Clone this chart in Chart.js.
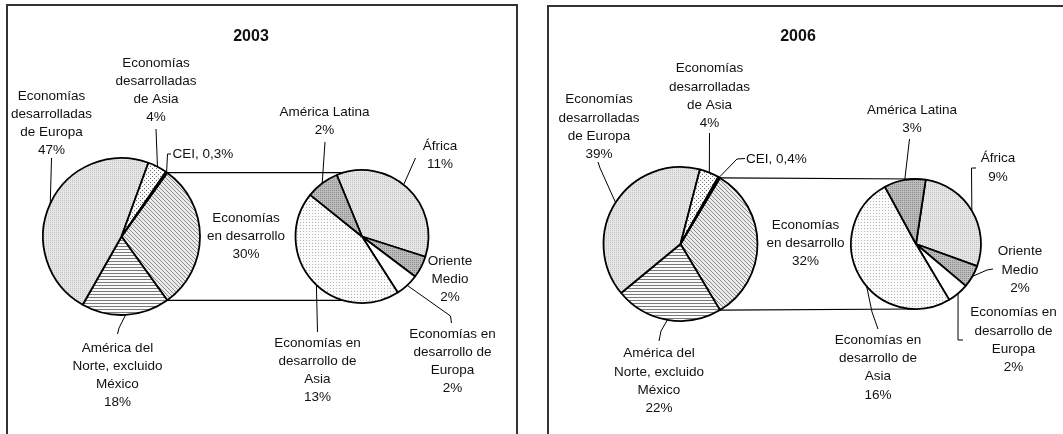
<!DOCTYPE html>
<html>
<head>
<meta charset="utf-8">
<script src="https://cdn.jsdelivr.net/npm/chart.js@4.4.1/dist/chart.umd.min.js"></script>
<style>
  html, body { margin: 0; padding: 0; background: #fff; }
  body { width: 1063px; height: 434px; position: relative; overflow: hidden; }
  canvas { position: absolute; left: 0; top: 0; }
  .panel { position: absolute; border: 2px solid #333; box-sizing: border-box; }
</style>
</head>
<body>
<div class="panel" style="left:6px;top:4px;width:512px;height:480px"></div>
<div class="panel" style="left:547px;top:5px;width:560px;height:480px"></div>
<canvas id="main2003" width="1063" height="434"></canvas>
<canvas id="sub2003" width="1063" height="434"></canvas>
<canvas id="main2006" width="1063" height="434"></canvas>
<canvas id="sub2006" width="1063" height="434"></canvas>
<script>
const years = ['2003', '2006'];

// pastel principal (la primera porción se desglosa en el segundo pastel)
const mainLabels = [
    ['Economías', 'en desarrollo'],
    ['América del', 'Norte, excluido', 'México'],
    ['Economías', 'desarrolladas', 'de Europa'],
    ['Economías', 'desarrolladas', 'de Asia'],
    'CEI'
];
const main2003 = [30, 18, 47, 4, 0.3];
const main2006 = [32, 22, 39, 4, 0.4];

// desglose de las economías en desarrollo
const subLabels = [
    ['África'],
    ['Oriente', 'Medio'],
    ['Economías en', 'desarrollo de', 'Europa'],
    ['Economías en', 'desarrollo de', 'Asia'],
    ['América Latina']
];
const sub2003 = [10.8, 1.6, 1.7, 13.4, 2.4];
const sub2006 = [9.0, 1.8, 1.7, 16.2, 3.3];

const W = 1063, H = 434;
const FONT = '"Liberation Sans", Arial, sans-serif';

function pattern(w, h, bg, fg, pts) {
    const c = document.createElement('canvas');
    c.width = w;
    c.height = h;
    const g = c.getContext('2d');
    g.fillStyle = bg;
    g.fillRect(0, 0, w, h);
    g.fillStyle = fg;
    pts.forEach(p => g.fillRect(p[0], p[1], p[2] || 1, 1));
    return g.createPattern(c, 'repeat');
}

const diag = pattern(4, 4, '#ececec', '#8c8c8c', [[0, 0], [1, 1], [2, 2], [3, 3]]);
const horiz = pattern(4, 3, '#fafafa', '#7a7a7a', [[0, 0, 4]]);
const dotsLight = pattern(2, 2, '#e6e6e6', '#c4c4c4', [[0, 0]]);
const checker = pattern(4, 4, '#fbfbfb', '#707070', [[0, 0], [2, 2]]);
const dotsDark = pattern(2, 2, '#bdbdbd', '#8a8a8a', [[0, 0]]);
const fineDots = pattern(3, 3, '#fbfbfb', '#b4b4b4', [[0, 0]]);

const mainFills = [diag, horiz, dotsLight, checker, '#000'];
const subFills = [dotsLight, dotsDark, '#fff', fineDots, dotsDark];

function pct(v) {
    if (v < 1) return v.toFixed(1).replace('.', ',') + '%';
    return Math.round(v) + '%';
}

function sum(a) {
    return a.reduce((s, v) => s + v, 0);
}

// etiquetas con líneas guía; el extremo de cada línea sale del arco
function labelsPlugin(spec) {
    return {
        id: 'etiquetas',
        afterDatasetsDraw(chart) {
            const ctx = chart.ctx;
            const meta = chart.getDatasetMeta(0);
            const values = chart.data.datasets[0].data;
            ctx.save();
            ctx.strokeStyle = '#000';
            ctx.lineWidth = 1;
            ctx.fillStyle = '#111';
            ctx.font = '13.5px ' + FONT;
            ctx.textBaseline = 'middle';
            spec.labels.forEach((lb, i) => {
                const arc = meta.data[i];
                if (lb.leader) {
                    const f = lb.frac === undefined ? 0.5 : lb.frac;
                    const a = arc.startAngle + (arc.endAngle - arc.startAngle) * f;
                    ctx.beginPath();
                    lb.leader.forEach((p, k) => k ? ctx.lineTo(p[0], p[1]) : ctx.moveTo(p[0], p[1]));
                    ctx.lineTo(arc.x + arc.outerRadius * Math.cos(a), arc.y + arc.outerRadius * Math.sin(a));
                    ctx.stroke();
                }
                const name = chart.data.labels[i];
                const lines = Array.isArray(name) ? [...name, pct(values[i])] : [name + ', ' + pct(values[i])];
                ctx.textAlign = lb.align || 'center';
                lines.forEach((t, k) => ctx.fillText(t, lb.x, lb.y + k * spec.lineHeight));
            });
            if (spec.title) {
                ctx.font = 'bold 16px ' + FONT;
                ctx.textAlign = 'center';
                ctx.fillText(spec.title, spec.tx, spec.ty);
            }
            ctx.restore();
        }
    };
}

// líneas que unen la porción desglosada con el segundo pastel
function connectors(mainChart) {
    return {
        id: 'conectores',
        beforeDatasetsDraw(chart) {
            const big = mainChart.getDatasetMeta(0).data[0];
            const small = chart.getDatasetMeta(0).data[0];
            const R = small.outerRadius;
            const ctx = chart.ctx;
            ctx.save();
            ctx.strokeStyle = '#000';
            ctx.lineWidth = 1.2;
            [big.startAngle, big.endAngle].forEach(a => {
                const x0 = big.x + big.outerRadius * Math.cos(a);
                const y0 = big.y + big.outerRadius * Math.sin(a);
                const dy = y0 - small.y;
                let x1 = small.x, y1 = small.y + Math.sign(dy) * R;
                if (Math.abs(dy) < R) {
                    x1 = small.x - Math.sqrt(R * R - dy * dy);
                    y1 = y0;
                }
                ctx.beginPath();
                ctx.moveTo(x0, y0);
                ctx.lineTo(x1, y1);
                ctx.stroke();
            });
            ctx.restore();
        }
    };
}

function pieConfig(labels, values, fills, geo, plugins) {
    const pad = geo.r + 4;
    return {
        type: 'pie',
        data: {
            labels: labels,
            datasets: [{
                data: values,
                backgroundColor: fills,
                borderColor: '#000',
                borderWidth: 1.8,
            }]
        },
        options: {
            responsive: false,
            animation: false,
            events: [],
            radius: geo.r,
            rotation: geo.rotation,
            layout: {
                padding: {
                    left: geo.cx - pad,
                    right: W - geo.cx - pad,
                    top: geo.cy - pad,
                    bottom: H - geo.cy - pad
                }
            },
            plugins: { legend: { display: false }, tooltip: { enabled: false } }
        },
        plugins: plugins
    };
}

// ---- 2003 ----
const chart2003 = new Chart(document.getElementById('main2003'), pieConfig(mainLabels, main2003, mainFills,
    { cx: 121.5, cy: 236.5, r: 78.5, rotation: 90 - main2003[0] / sum(main2003) * 180 },
    [labelsPlugin({
        title: years[0], tx: 251, ty: 36.5, lineHeight: 18,
        labels: [
            { x: 246, y: 218.5 },
            { x: 117.5, y: 348, leader: [[117.5, 334], [119, 328]] },
            { x: 51.5, y: 96.5, leader: [[51.5, 158]] },
            { x: 156, y: 63.5, leader: [[156, 129]] },
            { x: 172.5, y: 154, align: 'left', leader: [[171, 154], [167.5, 154]] }
        ]
    })]));

new Chart(document.getElementById('sub2003'), pieConfig(subLabels, sub2003, subFills,
    { cx: 362, cy: 236.5, r: 66.5, rotation: -22.3 },
    [connectors(chart2003), labelsPlugin({
        lineHeight: 18,
        labels: [
            { x: 440, y: 146.5, leader: [[415.5, 158]], frac: 0.47 },
            { x: 450, y: 261 },
            { x: 452.5, y: 334.5, leader: [[451.5, 323], [450.5, 316]] },
            { x: 317.5, y: 343.5, leader: [[317.5, 332]], frac: 0.47 },
            { x: 324.5, y: 112.5, leader: [[325, 142]] }
        ]
    })]));

// ---- 2006 ----
const chart2006 = new Chart(document.getElementById('main2006'), pieConfig(mainLabels, main2006, mainFills,
    { cx: 680.5, cy: 244, r: 77, rotation: 90 - main2006[0] / sum(main2006) * 180 },
    [labelsPlugin({
        title: years[1], tx: 798, ty: 37, lineHeight: 18.3,
        labels: [
            { x: 805.5, y: 225 },
            { x: 659, y: 353.5, leader: [[659, 341], [661, 331]] },
            { x: 599, y: 99.5, leader: [[598, 162], [600, 168]] },
            { x: 709.5, y: 68.5, leader: [[709.5, 133]] },
            { x: 746, y: 159, align: 'left', leader: [[745, 158.5], [737, 159]] }
        ]
    })]));

new Chart(document.getElementById('sub2006'), pieConfig(subLabels, sub2006, subFills,
    { cx: 916, cy: 244, r: 65, rotation: 8.6 },
    [connectors(chart2006), labelsPlugin({
        lineHeight: 18.3,
        labels: [
            { x: 998, y: 158.5, leader: [[976, 168], [971.5, 168]] },
            { x: 1020, y: 251.5, leader: [[993, 269], [987, 270]] },
            { x: 1013.5, y: 312.5, leader: [[963, 340], [958, 340]] },
            { x: 878, y: 340, leader: [[878, 329], [872, 312]], frac: 0.44 },
            { x: 912, y: 110, leader: [[909.5, 139]] }
        ]
    })]));
</script>
</body>
</html>
